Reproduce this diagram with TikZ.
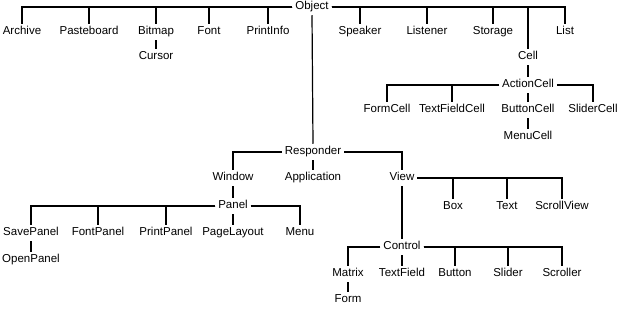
\documentclass[tikz,border=0pt]{standalone}
\usepackage{fontspec}
\setmainfont{Liberation Sans}
\usetikzlibrary{positioning}

\tikzset{
  cls/.style={font=\fontsize{11.5}{13}\selectfont,inner sep=1.5pt,outer sep=1.5pt,
              text height=8pt,text depth=2.5pt},
  link/.style={line width=1.2pt,black}
}

\begin{document}
\begin{tikzpicture}[x=1pt,y=-1pt]
  \useasboundingbox (0,0) rectangle (617,310);
  % root row
  \node[cls] (obj) at (312,7){Object};
  \node[cls] (archive) at (22,32){Archive};
  \node[cls] (pasteboard) at (89,32){Pasteboard};
  \node[cls] (bitmap) at (156,32){Bitmap};
  \node[cls] (font) at (209,32){Font};
  \node[cls] (printinfo) at (268,32){PrintInfo};
  \node[cls] (cursor) at (156,57){Cursor};
  \node[cls] (speaker) at (360,32){Speaker};
  \node[cls] (listener) at (427,32){Listener};
  \node[cls] (storage) at (493,32){Storage};
  \node[cls] (list) at (565,32){List};
  % cells
  \node[cls] (cell) at (528,57){Cell};
  \node[cls] (actioncell) at (528,85){ActionCell};
  \node[cls] (formcell) at (387,110){FormCell};
  \node[cls] (textfieldcell) at (452,110){TextFieldCell};
  \node[cls] (buttoncell) at (528,110){ButtonCell};
  \node[cls] (slidercell) at (593,110){SliderCell};
  \node[cls] (menucell) at (528,137){MenuCell};
  % responders
  \node[cls] (responder) at (313,152){Responder};
  \node[cls] (window) at (233,178){Window};
  \node[cls] (application) at (313,178){Application};
  \node[cls] (panel) at (233,206){Panel};
  \node[cls] (savepanel) at (31,233){SavePanel};
  \node[cls] (fontpanel) at (98,233){FontPanel};
  \node[cls] (printpanel) at (166,233){PrintPanel};
  \node[cls] (pagelayout) at (233,233){PageLayout};
  \node[cls] (menu) at (300,233){Menu};
  \node[cls] (openpanel) at (31,260){OpenPanel};
  % views
  \node[cls] (view) at (402,178){View};
  \node[cls] (box) at (453,207){Box};
  \node[cls] (text) at (507,207){Text};
  \node[cls] (scrollview) at (562,207){ScrollView};
  \node[cls] (control) at (402,247){Control};
  \node[cls] (matrix) at (348,274){Matrix};
  \node[cls] (textfield) at (402,274){TextField};
  \node[cls] (button) at (455,274){Button};
  \node[cls] (slider) at (508,274){Slider};
  \node[cls] (scroller) at (562,274){Scroller};
  \node[cls] (form) at (348,300){Form};

  % connectors
  \draw[link](obj.west) -| (archive.north);
  \draw[link](obj.west) -| (pasteboard.north);
  \draw[link](obj.west) -| (bitmap.north);
  \draw[link](obj.west) -| (font.north);
  \draw[link](obj.west) -| (printinfo.north);
  \draw[link](bitmap.south) -- (cursor.north);
  \draw[link](obj.east) -| (speaker.north);
  \draw[link](obj.east) -| (listener.north);
  \draw[link](obj.east) -| (storage.north);
  \draw[link](obj.east) -| (list.north);
  \draw[link](obj.east) -| (cell.north);
  \draw[link](cell.south) -- (actioncell.north);
  \draw[link](actioncell.west) -| (formcell.north);
  \draw[link](actioncell.west) -| (textfieldcell.north);
  \draw[link](actioncell.south) -- (buttoncell.north);
  \draw[link](actioncell.east) -| (slidercell.north);
  \draw[link](buttoncell.south) -- (menucell.north);
  \draw[link](obj.south) -- (responder.north);
  \draw[link](responder.west) -| (window.north);
  \draw[link](responder.south) -- (application.north);
  \draw[link](window.south) -- (panel.north);
  \draw[link](panel.west) -| (savepanel.north);
  \draw[link](panel.west) -| (fontpanel.north);
  \draw[link](panel.west) -| (printpanel.north);
  \draw[link](panel.south) -- (pagelayout.north);
  \draw[link](panel.east) -| (menu.north);
  \draw[link](savepanel.south) -- (openpanel.north);
  \draw[link](responder.east) -| (view.north);
  \draw[link](view.east) -| (box.north);
  \draw[link](view.east) -| (text.north);
  \draw[link](view.east) -| (scrollview.north);
  \draw[link](view.south) -- (control.north);
  \draw[link](control.west) -| (matrix.north);
  \draw[link](control.south) -- (textfield.north);
  \draw[link](control.east) -| (button.north);
  \draw[link](control.east) -| (slider.north);
  \draw[link](control.east) -| (scroller.north);
  \draw[link](matrix.south) -- (form.north);
\end{tikzpicture}
\end{document}
